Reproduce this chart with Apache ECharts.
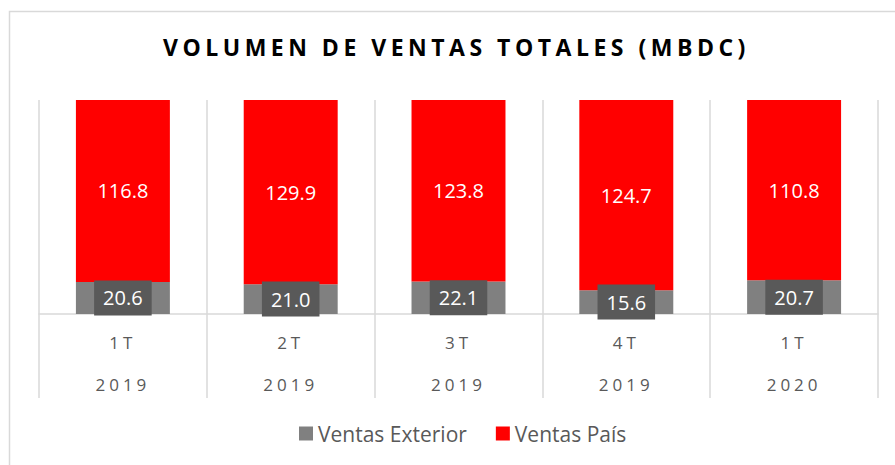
<!DOCTYPE html>
<html>
<head>
<meta charset="utf-8">
<script src="https://cdn.jsdelivr.net/npm/echarts@6/dist/echarts.min.js"></script>
<style>
  html, body { margin: 0; padding: 0; background: #fff; }
  #chart { width: 895px; height: 465px; }
</style>
</head>
<body>
<div id="chart"></div>
<script>
// datos del gráfico
var quarters = ['1T', '2T', '3T', '4T', '1T'];
var years = ['2019', '2019', '2019', '2019', '2020'];
var ventasExterior = [20.6, 21.0, 22.1, 15.6, 20.7];
var ventasPais = [116.8, 129.9, 123.8, 124.7, 110.8];
var titulo = 'VOLUMEN DE VENTAS TOTALES (MBDC)';

// 100% apilado: cada barra como porcentaje del total
var totals = ventasExterior.map(function (v, i) { return v + ventasPais[i]; });
var shareExterior = ventasExterior.map(function (v, i) { return v / totals[i] * 100; });
var sharePais = ventasPais.map(function (v, i) { return v / totals[i] * 100; });

var font = 'Open Sans';
var gridColor = '#d9d9d9';

var chart = echarts.init(document.getElementById('chart'), null, { renderer: 'svg' });
chart.setOption({
  animation: false,
  title: {
    text: titulo,
    left: 163,
    top: 35,
    padding: 0,
    textAlign: 'left',
    textStyle: { fontFamily: font, fontSize: 23, fontWeight: 'bold', color: '#000' }
  },
  legend: {
    bottom: 16,
    left: 294,
    itemWidth: 14,
    itemHeight: 14,
    itemGap: 29,
    icon: 'rect',
    textStyle: { fontFamily: font, fontSize: 21, color: '#595959' },
    data: ['Ventas Exterior', 'Ventas País']
  },
  grid: { left: 39, right: 17, top: 100, bottom: 151 },
  xAxis: {
    type: 'category',
    data: quarters.map(function (q, i) { return i; }),
    axisLine: { lineStyle: { color: gridColor, width: 1.5 } },
    axisTick: { show: true, interval: 0, length: 84, lineStyle: { color: gridColor, width: 1.5 } },
    splitLine: { show: true, interval: 0, lineStyle: { color: gridColor, width: 1.5 } },
    axisLabel: {
      margin: 7,
      interval: 0,
      formatter: function (i) {
        return '{a|' + quarters[i] + '}\n{b|' + years[i] + '}';
      },
      rich: {
        a: { fontFamily: font, fontSize: 17, color: '#595959', lineHeight: 42 },
        b: { fontFamily: font, fontSize: 17, color: '#595959', lineHeight: 42 }
      }
    }
  },
  yAxis: {
    type: 'value',
    min: 0,
    max: 100,
    show: false,
    splitLine: { show: false }
  },
  series: [
    {
      name: 'Ventas Exterior',
      type: 'bar',
      stack: 'total',
      barWidth: '56%',
      itemStyle: { color: '#808080' },
      data: shareExterior,
      label: {
        show: true,
        position: 'inside',
        formatter: function (p) { return ventasExterior[p.dataIndex].toFixed(1); },
        backgroundColor: '#595959',
        padding: [8, 9, 7, 9],
        color: '#fff',
        fontFamily: font,
        fontSize: 20
      }
    },
    {
      name: 'Ventas País',
      type: 'bar',
      stack: 'total',
      barWidth: '56%',
      itemStyle: { color: '#ff0000' },
      data: sharePais,
      label: {
        show: true,
        position: 'inside',
        formatter: function (p) { return ventasPais[p.dataIndex].toFixed(1); },
        color: '#fff',
        fontFamily: font,
        fontSize: 20
      }
    }
  ],
  graphic: [
    {
      type: 'polyline',
      silent: true,
      shape: { points: [[9.5, 465], [9.5, 11.5], [895, 11.5]] },
      style: { stroke: gridColor, lineWidth: 1.5, fill: null }
    }
  ]
});

// espaciado de letras (como en Excel) para el título y las etiquetas del eje
function espaciar() {
  var texts = chart.getDom().querySelectorAll('text');
  texts.forEach(function (t) {
    var s = t.textContent;
    if (s === titulo) {
      t.style.letterSpacing = '4.5px';
    } else if (quarters.indexOf(s) >= 0 || years.indexOf(s) >= 0) {
      t.style.letterSpacing = '4px';
    }
  });
}
espaciar();
chart.on('finished', espaciar);
</script>
</body>
</html>
